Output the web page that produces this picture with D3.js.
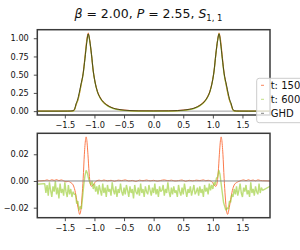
<!DOCTYPE html>
<html>
<head>
<meta charset="utf-8">
<script src="https://cdn.jsdelivr.net/npm/d3@7"></script>
<style>
body { margin: 0; background: #fff; }
text { font-family: "DejaVu Sans", sans-serif; }
</style>
</head>
<body>
<div id="chart"></div>
<script>
// ---- data ----
var xTicks = [-1.5, -1, -0.5, 0, 0.5, 1, 1.5];
var topYTicks = [0, 0.25, 0.5, 0.75, 1];
var botYTicks = [-0.02, 0, 0.02];
var seriesNames = ["t: 150", "t: 600", "GHD"];

// top panel: density profiles
var topX = [-1.965, -1.60, -1.45, -1.40, -1.36, -1.33, -1.31, -1.28, -1.26, -1.23, -1.19, -1.16, -1.13, -1.105,
  -1.08, -1.05, -1.02, -0.99, -0.95, -0.90, -0.85, -0.80, -0.74, -0.68, -0.60, -0.50, -0.40, -0.25, 0,
  0.25, 0.40, 0.50, 0.60, 0.68, 0.74, 0.80, 0.85, 0.90, 0.95, 0.99, 1.02, 1.05, 1.08,
  1.105, 1.13, 1.16, 1.19, 1.23, 1.26, 1.28, 1.31, 1.33, 1.36, 1.40, 1.45, 1.60, 1.965];
var ghdTop = [0, 0, 0.001, 0.002, 0.006, 0.04, 0.10, 0.17, 0.24, 0.36, 0.52, 0.72, 0.94, 1.06,
  0.97, 0.78, 0.55, 0.40, 0.27, 0.18, 0.125, 0.09, 0.06, 0.04, 0.025, 0.014, 0.008, 0.004, 0.003,
  0.004, 0.008, 0.014, 0.025, 0.04, 0.06, 0.09, 0.125, 0.18, 0.27, 0.40, 0.55, 0.78, 0.97,
  1.06, 0.94, 0.72, 0.52, 0.36, 0.24, 0.17, 0.10, 0.04, 0.006, 0.002, 0.001, 0, 0];
var t150Top = [0, 0, 0.001, 0.001, 0.004, 0.034, 0.088, 0.15, 0.216, 0.34, 0.52, 0.74, 0.97, 1.07,
  0.97, 0.776, 0.548, 0.40, 0.27, 0.18, 0.125, 0.09, 0.06, 0.04, 0.025, 0.014, 0.008, 0.004, 0.003,
  0.004, 0.008, 0.014, 0.025, 0.04, 0.06, 0.09, 0.125, 0.18, 0.27, 0.40, 0.548, 0.776, 0.97,
  1.07, 0.97, 0.74, 0.52, 0.34, 0.216, 0.15, 0.088, 0.034, 0.004, 0.001, 0.001, 0, 0];
var t600Top = [0, 0, 0, 0, 0.001, 0.033, 0.09, 0.152, 0.22, 0.34, 0.51, 0.725, 0.946, 1.058,
  0.965, 0.775, 0.545, 0.395, 0.265, 0.175, 0.12, 0.085, 0.055, 0.035, 0.02, 0.009, 0.003, 0, 0,
  0, 0.003, 0.009, 0.02, 0.035, 0.055, 0.085, 0.12, 0.175, 0.265, 0.395, 0.545, 0.775, 0.966,
  1.064, 0.94, 0.71, 0.50, 0.34, 0.22, 0.155, 0.09, 0.033, 0.001, 0, 0, 0, 0];

// bottom panel: difference to GHD (units of 1e-3)
var t150DiffX = [-1.965, -1.84, -1.80, -1.76, -1.72, -1.68, -1.64, -1.60, -1.56, -1.52, -1.48, -1.44, -1.40,
  -1.36, -1.33, -1.30, -1.27, -1.25, -1.23, -1.21, -1.19, -1.17, -1.15, -1.14, -1.13, -1.11, -1.09,
  -1.07, -1.05, -1.02, -0.99, -0.96, -0.92, -0.88,
  -0.84, -0.78, -0.72, -0.66, -0.60, -0.54, -0.48, -0.42, -0.36, -0.30, -0.24, -0.18, -0.12, -0.06, 0,
  0.06, 0.12, 0.18, 0.24, 0.30, 0.36, 0.42, 0.48, 0.54, 0.60, 0.66, 0.72, 0.78, 0.84,
  0.88, 0.92, 0.96, 0.99, 1.02, 1.05, 1.07, 1.09, 1.11, 1.13, 1.14, 1.15, 1.17, 1.19, 1.21, 1.23,
  1.25, 1.27, 1.30, 1.33, 1.36, 1.40, 1.44, 1.48, 1.52, 1.56, 1.60, 1.64, 1.68, 1.72, 1.76, 1.80, 1.84, 1.965];
var t150Diff = [0, 0.3, 0.8, 0.2, 0.9, 0.4, 1.0, 0.3, 0.8, 0.1, -0.6, -0.3, -1.2,
  -3, -7, -14, -21.5, -25, -22, -12, 2, 20, 31, 33, 31, 20, 6,
  -2, -4, -3, -1, 0.2, 0.6, 0.2,
  0.7, 0.1, 0.5, -0.2, 0.6, 0.3, 0.8, 0, 0.4, -0.3, 0.6, 0.2, 0.7, 0.1, 0.5,
  -0.1, 0.4, 0.8, 0.2, 0.6, 0, 0.3, 0.7, -0.2, 0.5, 0.1, 0.6, 0.3, 0.8,
  0.2, 0.5, 0.1, -1, -3, -4, -2, 6, 20, 31, 33, 31, 20, 2, -12, -22,
  -25, -21.5, -14, -7, -3, -1.2, -0.3, 0.4, 0.8, 0.2, 0.9, 0.3, 0.7, 0.1, 0.8, 0.4, 0.2, 0];

// t: 600 sampled every 0.02 from -1.84 to 1.84, plus the two edge points
var t600Edges = [[-1.965, -2.5], [1.965, -4]];
var t600Start = -1.84, t600Step = 0.02;
var t600Diff = [
  -2, -9, -3, -11, -1, -7, -12, -4, -8, 0,
  -10, -5, -13, -2, -9, -6, -11, -1, -8, -12,
  -3, -10, -6, -12, -8, -10, -10, -17, -15, -22,
  -19, -21, -12, -3, 4, 8, 6, 2, -1, -3,
  0, -6, -2, -8, -4, -10, -3, -7, -11, -2,
  -9, -5, -12, -3, -8, -6, -11, -1, -7, -10,
  -4, -12, -6, -9, -2, -8, -11, -5, -10, -3,
  -7, -12, -4, -9, -6, -13, -3, -8, -10, -5,
  -11, -2, -9, -6, -12, -4, -8, -10, -3, -7,
  -11, -5, -9, -2, -10, -6, -12, -4, -8, -7,
  -3, -11, -6, -9, -1, -8, -12, -5, -10, -4,
  -9, -7, -12, -3, -8, -11, -5, -10, -2, -7,
  -12, -6, -9, -4, -11, -7, -3, -10, -8, -5,
  -11, -4, -9, -6, -12, -3, -8, -5, -10, -2,
  -7, -3, -6, -1, -3, 2, 3, 8, 5, -2,
  -9, -16, -19, -22, -20, -21, -15, -16, -10, -12,
  -6, -10, -4, -11, -7, -2, -9, -12, -5, -8,
  -3, -10, -7, -12, -1, -9, -6, -11, -4, -8,
  -10, -2, -9, -5, -7];

// ---- layout ----
var w = 300, h = 250;
var left = 37.3, right = 270;
var topPanel = {y0: 29.7, y1: 115};
var botPanel = {y0: 133.3, y1: 217.7};
var orange = "#fb7a4c", green = "#9acd32";

var svg = d3.select("#chart").append("svg")
  .attr("width", w).attr("height", h);

var x = d3.scaleLinear().domain([-1.965, 1.965]).range([left, right]);
var yTop = d3.scaleLinear().domain([-0.053, 1.117]).range([topPanel.y1, topPanel.y0]);
var yBot = d3.scaleLinear().domain([-0.0275, 0.0357]).range([botPanel.y1, botPanel.y0]);

function pairs(xs, ys, k) {
  return xs.map(function(v, i) { return [v, ys[i] * k]; });
}
var t600Pts = [[t600Edges[0][0], t600Edges[0][1] / 1000]]
  .concat(t600Diff.map(function(v, i) { return [t600Start + t600Step * i, v / 1000]; }))
  .concat([[t600Edges[1][0], t600Edges[1][1] / 1000]]);

svg.append("clipPath").attr("id", "clipTop").append("rect")
  .attr("x", left).attr("y", topPanel.y0).attr("width", right - left).attr("height", topPanel.y1 - topPanel.y0);
svg.append("clipPath").attr("id", "clipBot").append("rect")
  .attr("x", left).attr("y", botPanel.y0).attr("width", right - left).attr("height", botPanel.y1 - botPanel.y0);

function axes(y, panel, yt, fmt) {
  var gx = svg.append("g").attr("transform", "translate(0," + panel.y1 + ")")
    .call(d3.axisBottom(x).tickValues(xTicks).tickFormat(d3.format(".1f")).tickSize(3.5).tickPadding(3.5));
  var gy = svg.append("g").attr("transform", "translate(" + left + ",0)")
    .call(d3.axisLeft(y).tickValues(yt).tickFormat(d3.format(fmt)).tickSize(3.5).tickPadding(5));
  [gx, gy].forEach(function(g) {
    g.select(".domain").remove();
    g.selectAll("line").attr("stroke", "#222").attr("stroke-width", 0.8);
    g.selectAll("text").attr("font-size", "8.2px").attr("fill", "#111")
      .style("font-family", "DejaVu Sans");
  });
  gx.selectAll("text").attr("dy", "0.71em");
}

// top panel
svg.append("line").attr("x1", left).attr("x2", right)
  .attr("y1", yTop(0)).attr("y2", yTop(0)).attr("stroke", "#888").attr("stroke-width", 0.8);
var lineTop = d3.line().x(function(d) { return x(d[0]); }).y(function(d) { return yTop(d[1]); })
  .curve(d3.curveMonotoneX);
var gTop = svg.append("g").attr("clip-path", "url(#clipTop)");
gTop.append("path").datum(pairs(topX, t150Top, 1)).attr("d", lineTop)
  .attr("fill", "none").attr("stroke", orange).attr("stroke-width", 1.2);
gTop.append("path").datum(pairs(topX, t600Top, 1)).attr("d", lineTop)
  .attr("fill", "none").attr("stroke", green).attr("stroke-width", 1.2).attr("opacity", 0.8);
gTop.append("path").datum(pairs(topX, ghdTop, 1)).attr("d", lineTop)
  .attr("fill", "none").attr("stroke", "#2a2a10").attr("stroke-width", 0.9).attr("opacity", 0.85);
axes(yTop, topPanel, topYTicks, ".2f");

// bottom panel
var lineBot = d3.line().x(function(d) { return x(d[0]); }).y(function(d) { return yBot(d[1]); });
var gBot = svg.append("g").attr("clip-path", "url(#clipBot)");
gBot.append("path").datum(pairs(t150DiffX, t150Diff, 0.001)).attr("d", lineBot.curve(d3.curveMonotoneX))
  .attr("fill", "none").attr("stroke", orange).attr("stroke-width", 1);
gBot.append("path").datum(t600Pts).attr("d", lineBot.curve(d3.curveLinear))
  .attr("fill", "none").attr("stroke", green).attr("stroke-width", 1.4).attr("opacity", 0.65)
  .attr("stroke-linejoin", "bevel");
svg.append("line").attr("x1", left).attr("x2", right)
  .attr("y1", yBot(0)).attr("y2", yBot(0)).attr("stroke", "#888").attr("stroke-width", 1);
axes(yBot, botPanel, botYTicks, ".2f");

// spines
[topPanel, botPanel].forEach(function(p) {
  svg.append("rect").attr("x", left).attr("y", p.y0)
    .attr("width", right - left).attr("height", p.y1 - p.y0)
    .attr("fill", "none").attr("stroke", "#3a3a3a").attr("stroke-width", 1.5);
});

// title
var title = svg.append("text").attr("x", 148.5).attr("y", 18)
  .attr("text-anchor", "middle").attr("font-size", "12.5px").attr("fill", "#111");
title.append("tspan").attr("font-style", "italic").text("β");
title.append("tspan").text(" = 2.00, ");
title.append("tspan").attr("font-style", "italic").text("P");
title.append("tspan").text(" = 2.55,  ");
title.append("tspan").attr("font-style", "italic").text("S");
title.append("tspan").attr("font-size", "8.5px").attr("dy", 3).text("1, 1");

// legend
var lg = svg.append("g");
lg.append("rect").attr("x", 256.7).attr("y", 78.3).attr("width", 50).attr("height", 44.4)
  .attr("rx", 2.5).attr("fill", "#fff").attr("fill-opacity", 0.8)
  .attr("stroke", "#ccc").attr("stroke-width", 1);
var lgColors = [orange, green, "#777"];
seriesNames.forEach(function(name, i) {
  var cy = 85.3 + i * 14;
  lg.append("line").attr("x1", 261).attr("x2", 264).attr("y1", cy).attr("y2", cy)
    .attr("stroke", lgColors[i]).attr("stroke-width", 1).attr("opacity", i === 1 ? 0.6 : 0.9);
  lg.append("text").attr("x", 270.7).attr("y", cy).attr("dy", "0.36em")
    .attr("font-size", "10px").attr("fill", "#111").text(name);
});
</script>
</body>
</html>
